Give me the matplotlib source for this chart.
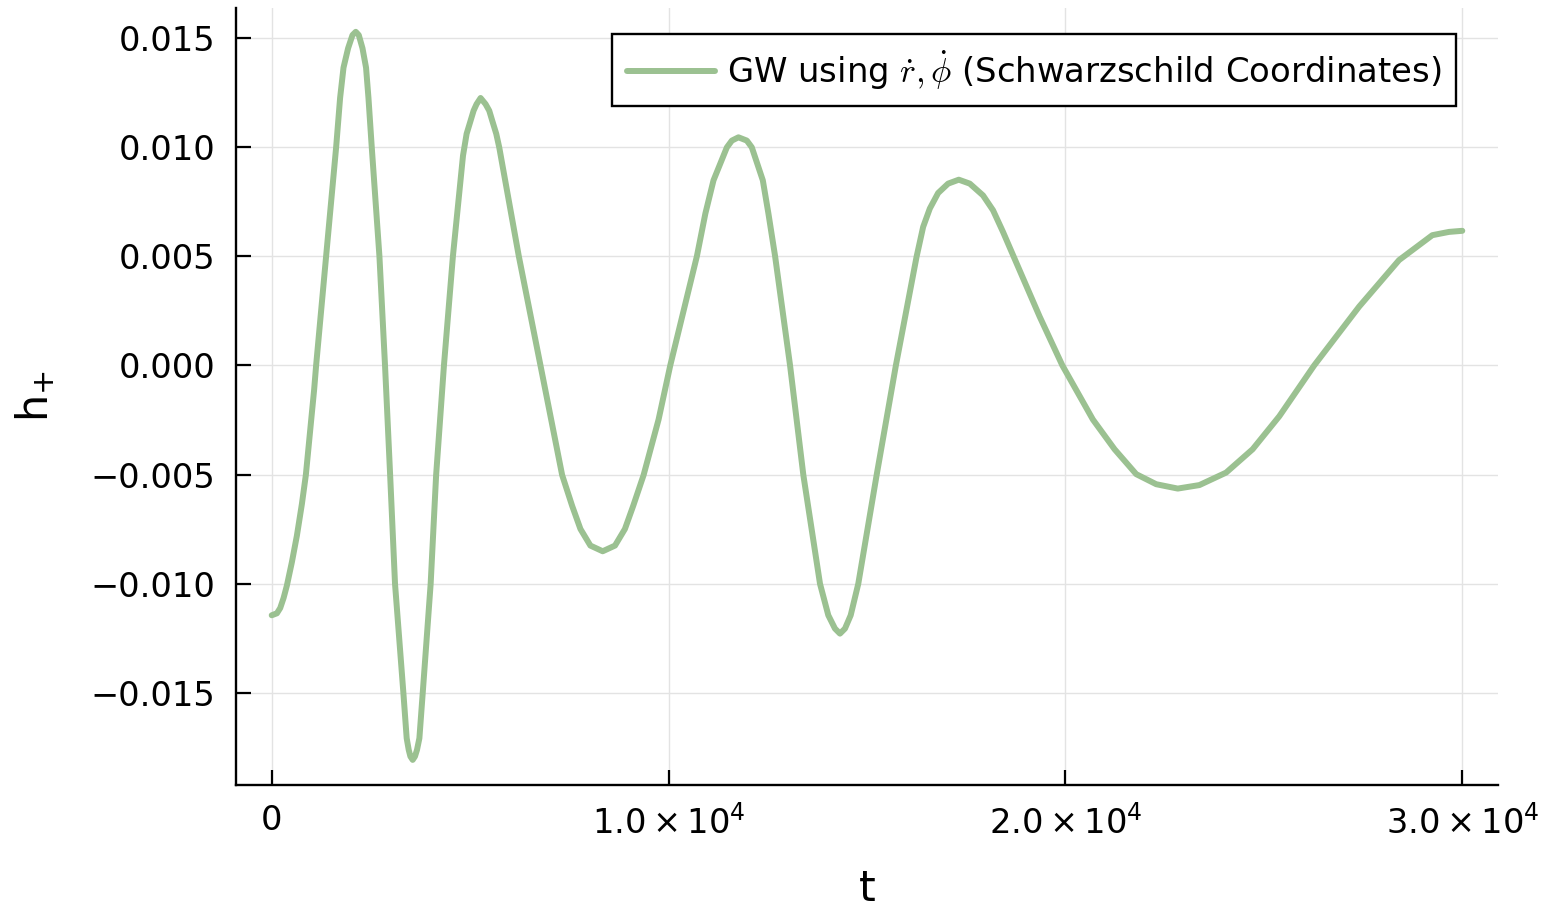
import matplotlib
matplotlib.use("Agg")
import matplotlib.pyplot as plt

# Data (t, h_+)
t = [0, 131, 214, 299, 382, 508, 634, 760, 860, 1069,
     1119, 1371, 1623, 1723, 1809, 1925, 2035, 2118, 2194, 2287,
     2377, 2438, 2521, 2714, 2855, 2984, 3107, 3318, 3401, 3452,
     3494, 3552, 3610, 3661, 3721, 3805, 4005, 4143, 4340, 4566,
     4820, 4911, 5011, 5087, 5162, 5263, 5389, 5481, 5557, 5658,
     5733, 6226, 6772, 7318, 7570, 7779, 8030, 8340, 8650, 8900,
     9109, 9371, 9748, 10043, 10714, 10927, 11132, 11469, 11595, 11761,
     11972, 12098, 12375, 12516, 12684, 13061, 13396, 13816, 14025, 14193,
     14319, 14445, 14589, 14780, 15243, 15728, 16249, 16415, 16583, 16792,
     17044, 17313, 17590, 17924, 18176, 18427, 18679, 19351, 19922, 20692,
     21238, 21784, 22287, 22830, 23376, 24048, 24717, 25389, 26269, 27401,
     28407, 29245, 29665, 30000]
h_plus = [-0.01144, -0.01135, -0.01111, -0.01065, -0.01008, -0.00901, -0.00780, -0.00635, -0.00502, -0.00111,
          0.0, 0.00500, 0.00998, 0.01224, 0.01363, 0.01452, 0.01512, 0.01527, 0.01512, 0.01452,
          0.01363, 0.01224, 0.00998, 0.00500, 0.0, -0.00502, -0.01000, -0.01500, -0.01707, -0.01760,
          -0.01790, -0.01806, -0.01790, -0.01760, -0.01707, -0.01500, -0.01000, -0.00502, 0.0, 0.00500,
          0.00960, 0.01060, 0.01120, 0.01166, 0.01196, 0.01224, 0.01196, 0.01166, 0.01120, 0.01060,
          0.00998, 0.00500, 0.0, -0.00502, -0.00643, -0.00749, -0.00825, -0.00851, -0.00825, -0.00749,
          -0.00643, -0.00502, -0.00248, 0.0, 0.00500, 0.00695, 0.00847, 0.00998, 0.01029, 0.01044,
          0.01029, 0.00998, 0.00847, 0.00695, 0.00500, 0.0, -0.00502, -0.01000, -0.01144, -0.01205,
          -0.01228, -0.01205, -0.01144, -0.01000, -0.00502, 0.0, 0.00497, 0.00634, 0.00718, 0.00789,
          0.00832, 0.00850, 0.00832, 0.00778, 0.00710, 0.00611, 0.00505, 0.00223, 0.0, -0.00248,
          -0.00384, -0.00498, -0.00544, -0.00564, -0.00548, -0.00491, -0.00384, -0.00233, 0.0, 0.00269,
          0.00482, 0.00596, 0.00611, 0.00616]

xticks = [0, 10000, 20000, 30000]
xticklabels = ["0", r"$1.0\times10^{4}$", r"$2.0\times10^{4}$", r"$3.0\times10^{4}$"]
yticks = [-0.015, -0.010, -0.005, 0.0, 0.005, 0.010, 0.015]
yticklabels = ["\u22120.015", "\u22120.010", "\u22120.005", "0.000", "0.005", "0.010", "0.015"]
legend_label = r"GW using $\dot{r},\dot{\phi}$ (Schwarzschild Coordinates)"

fig = plt.figure(figsize=(15.44, 9.22), dpi=100)
ax = fig.add_axes([236/1544, 1-785/922, (1498-236)/1544, (785-8)/922])

ax.plot(t, h_plus, color="#9bc191", lw=4.3, solid_capstyle="round",
        solid_joinstyle="round", label=legend_label)

ax.set_xlim(-900, 30900)
ax.set_ylim(-0.01921, 0.01636)
ax.set_xticks(xticks)
ax.set_xticklabels(xticklabels)
ax.set_yticks(yticks)
ax.set_yticklabels(yticklabels)

for s in ["top", "right"]:
    ax.spines[s].set_visible(False)
for s in ["left", "bottom"]:
    ax.spines[s].set_linewidth(1.7)
    ax.spines[s].set_color("black")

ax.grid(True, color="#e3e3e3", lw=1.0)
ax.set_axisbelow(True)
ax.tick_params(direction="in", length=10.5, width=1.6, labelsize=24.2, pad=14)
ax.tick_params(axis="y", pad=15)

ax.set_xlabel("t", fontsize=31, labelpad=20)
ax.set_ylabel(r"h$_{+}$", fontsize=31, labelpad=24)

leg = ax.legend(loc="upper right", fontsize=24.4, frameon=True, fancybox=False,
                edgecolor="black", framealpha=1.0, handlelength=2.6,
                handletextpad=0.35, borderpad=0.43, borderaxespad=0.0,
                bbox_to_anchor=((1456-236)/1262, (785-34)/777))
leg.get_frame().set_linewidth(1.7)
for txt in leg.get_texts():
    txt.set_math_fontfamily("cm")

fig.savefig("out.png", dpi=100)
